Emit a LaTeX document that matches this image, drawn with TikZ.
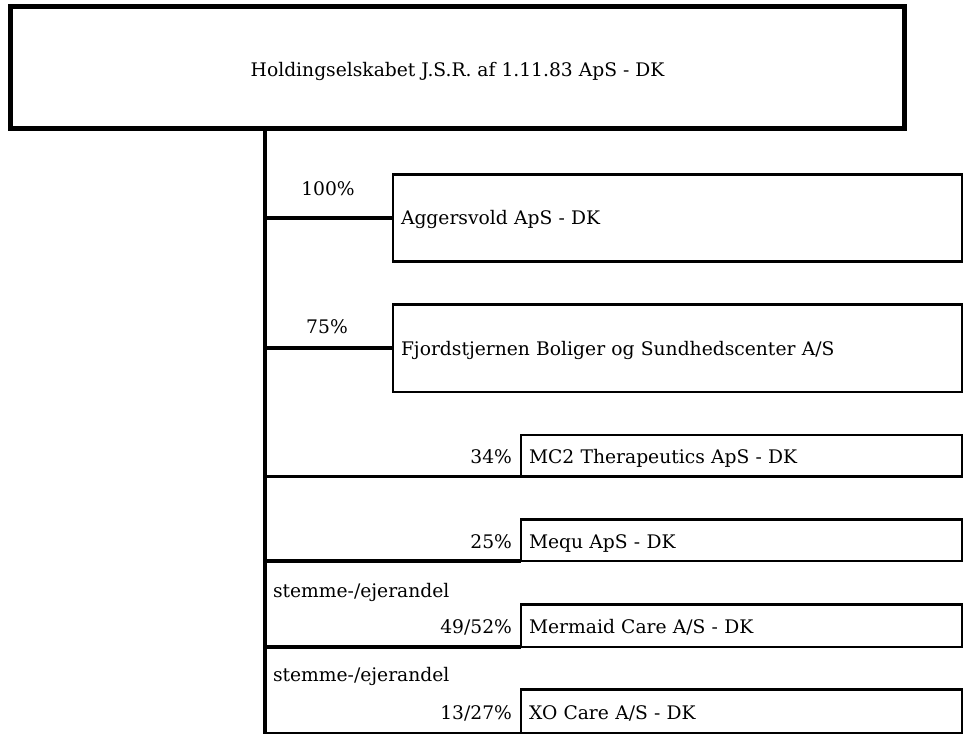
\documentclass[tikz,border=0pt]{standalone}
\usepackage{fontspec}
\setmainfont{DejaVu Serif}
\begin{document}
\begin{tikzpicture}[x=1pt,y=-1pt,
  every node/.style={font=\fontsize{18.7}{22}\selectfont, outer sep=0pt},
  topbox/.style={draw, line width=4.5pt, anchor=north west, inner sep=0pt,
    minimum width=894pt, minimum height=122pt, text height=22pt, text depth=4.5pt},
  subbox/.style={draw, line width=2.6pt, anchor=north west, inner xsep=8pt,
    inner ysep=0pt, align=left, text height=18pt, text depth=4.5pt},
  lowbox/.style={subbox, text width=425pt, text height=20.5pt},
  trunkline/.style={line width=4.5pt},
  conn/.style={line width=3.6pt},
  pct/.style={inner sep=0pt}
]
\useasboundingbox (0,0) rectangle (965,733);
\fill[white] (0,0) rectangle (965,733);

% top box
\node[topbox] (top) at (10.5,6.5)
  {Holdingselskabet J.S.R. af 1.11.83 ApS - DK};

% subsidiaries
\node[subbox, text width=553pt, minimum height=87pt] (agg) at (393,174.5)
  {Aggersvold ApS - DK};
\node[subbox, text width=553pt, minimum height=87.5pt] (fjo) at (393,304.5)
  {Fjordstjernen Boliger og Sundhedscenter A/S};
\node[lowbox, minimum height=41.5pt] (mc2) at (521,435)
  {MC2 Therapeutics ApS - DK};
\node[lowbox, minimum height=41.5pt] (mequ) at (521,519.5)
  {Mequ ApS - DK};
\node[lowbox, minimum height=42.5pt] (merm) at (521,604.5)
  {Mermaid Care A/S - DK};
\node[lowbox, minimum height=44pt] (xo) at (521,689.5)
  {XO Care A/S - DK};

% trunk
\coordinate (trunktop) at (265,128.5);
\coordinate (trunkbot) at (265,735);
\draw[trunkline] (trunktop) -- (trunkbot);

% connectors
\draw[conn] (trunktop |- agg.west) -- (agg.west);
\draw[conn] (trunktop |- fjo.west) -- (fjo.west);
\draw[conn] (trunktop |- mc2.south west) -- (mc2.south west);
\draw[conn] (trunktop |- mequ.south west) -- (mequ.south west);
\draw[conn] (trunktop |- merm.south west) -- (merm.south west);
\draw[conn] (trunktop |- xo.south west) -- (xo.south west);

% percentage labels
\node[pct, anchor=mid] (p100) at (328,193) {100\%};
\node[pct, anchor=mid] (p75) at (327,331) {75\%};
\node[pct, anchor=base east, xshift=-9pt] (p34) at (mc2.base west) {34\%};
\node[pct, anchor=base east, xshift=-9pt] (p25) at (mequ.base west) {25\%};
\node[pct, anchor=mid west] (st1) at (273,595) {stemme-/ejerandel};
\node[pct, anchor=base east, xshift=-9pt] (p49) at (merm.base west) {49/52\%};
\node[pct, anchor=mid west] (st2) at (273,679) {stemme-/ejerandel};
\node[pct, anchor=base east, xshift=-9pt] (p13) at (xo.base west) {13/27\%};
\end{tikzpicture}
\end{document}
